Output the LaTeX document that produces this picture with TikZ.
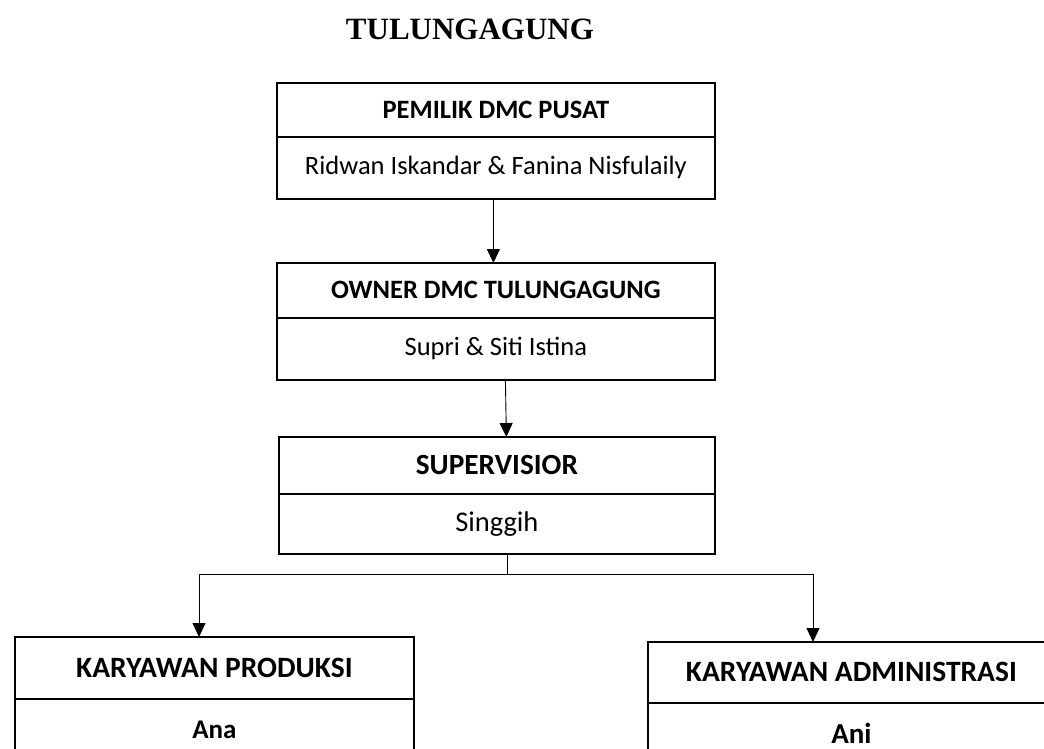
\documentclass[tikz,border=0pt]{standalone}
\usepackage{fontspec}
\setmainfont{Carlito}
\newfontfamily\titlefont{Liberation Serif}
\usetikzlibrary{arrows.meta}
\begin{document}
\begin{tikzpicture}[x=1pt,y=-1pt,
  cell/.style={draw,line width=0.8pt,inner sep=0pt,anchor=north west,text=black},
  outer/.style={draw,line width=2.2pt},
  link/.style={draw,line width=0.9pt},
  arr/.style={link,-{Triangle[width=13pt,length=14pt]}},
  tophead/.style={font=\fontsize{26.5}{30}\selectfont\bfseries},
  topname/.style={font=\fontsize{26.5}{30}\selectfont},
  bothead/.style={font=\fontsize{29.5}{34}\selectfont\bfseries},
  botname/.style={font=\fontsize{27}{31}\selectfont\bfseries},
  ttl/.style={font=\fontsize{31}{36}\selectfont\titlefont\bfseries,inner sep=0pt,anchor=base}]
\useasboundingbox (0,0) rectangle (1044,749);
\clip (0,0) rectangle (1044,749);
\node[ttl] (title) at (470,40) {TULUNGAGUNG};
% box 1
\node[cell,tophead,minimum width=437pt,minimum height=53pt] (p1h) at (277,83) {PEMILIK DMC PUSAT};
\node[cell,topname,minimum width=437pt,minimum height=61pt] (p1n) at (p1h.south west) {Ridwan Iskandar \& Fanina Nisfulaily};
\draw[outer] (p1h.north west) rectangle (p1n.south east);
% box 2
\node[cell,tophead,minimum width=437pt,minimum height=54pt] (p2h) at (277,263) {OWNER DMC TULUNGAGUNG};
\node[cell,topname,minimum width=437pt,minimum height=61pt] (p2n) at (p2h.south west) {Supri \& Siti Istina};
\draw[outer] (p2h.north west) rectangle (p2n.south east);
% box 3
\node[cell,font=\fontsize{29.3}{34}\selectfont\bfseries,minimum width=435pt,minimum height=56pt] (p3h) at (279,437) {SUPERVISIOR};
\node[cell,font=\fontsize{28.5}{32}\selectfont,minimum width=435pt,minimum height=59pt] (p3n) at (p3h.south west) {Singgih};
\draw[outer] (p3h.north west) rectangle (p3n.south east);
% box 4
\node[cell,bothead,minimum width=398pt,minimum height=61pt] (p4h) at (15,637) {KARYAWAN PRODUKSI};
\node[cell,botname,minimum width=398pt,minimum height=62pt] (p4n) at (p4h.south west) {Ana};
\draw[outer] (p4h.north west) rectangle (p4n.south east);
% box 5
\node[cell,bothead,minimum width=406pt,minimum height=60pt] (p5h) at (648,642) {KARYAWAN ADMINISTRASI};
\node[cell,botname,font=\fontsize{29}{33}\selectfont\bfseries,minimum width=406pt,minimum height=61pt] (p5n) at (p5h.south west) {Ani};
\draw[outer] (p5h.north west) rectangle (p5n.south east);
% connectors
\draw[arr] ([xshift=-2.5pt]p1n.south) -- ([xshift=-2.5pt]p2h.north);
\draw[arr] ([xshift=9.5pt]p2n.south) -- ([xshift=9.5pt]p3h.north);
\coordinate (j) at (507,574);
\coordinate (jl) at (199,574);
\coordinate (jr) at (813,574);
\draw[link] (p3n.south -| j) -- (j);
\draw[link] (jl) -- (jr);
\draw[arr] (jl) -- (jl |- p4h.north);
\draw[arr] (jr) -- (jr |- p5h.north);
\end{tikzpicture}
\end{document}
